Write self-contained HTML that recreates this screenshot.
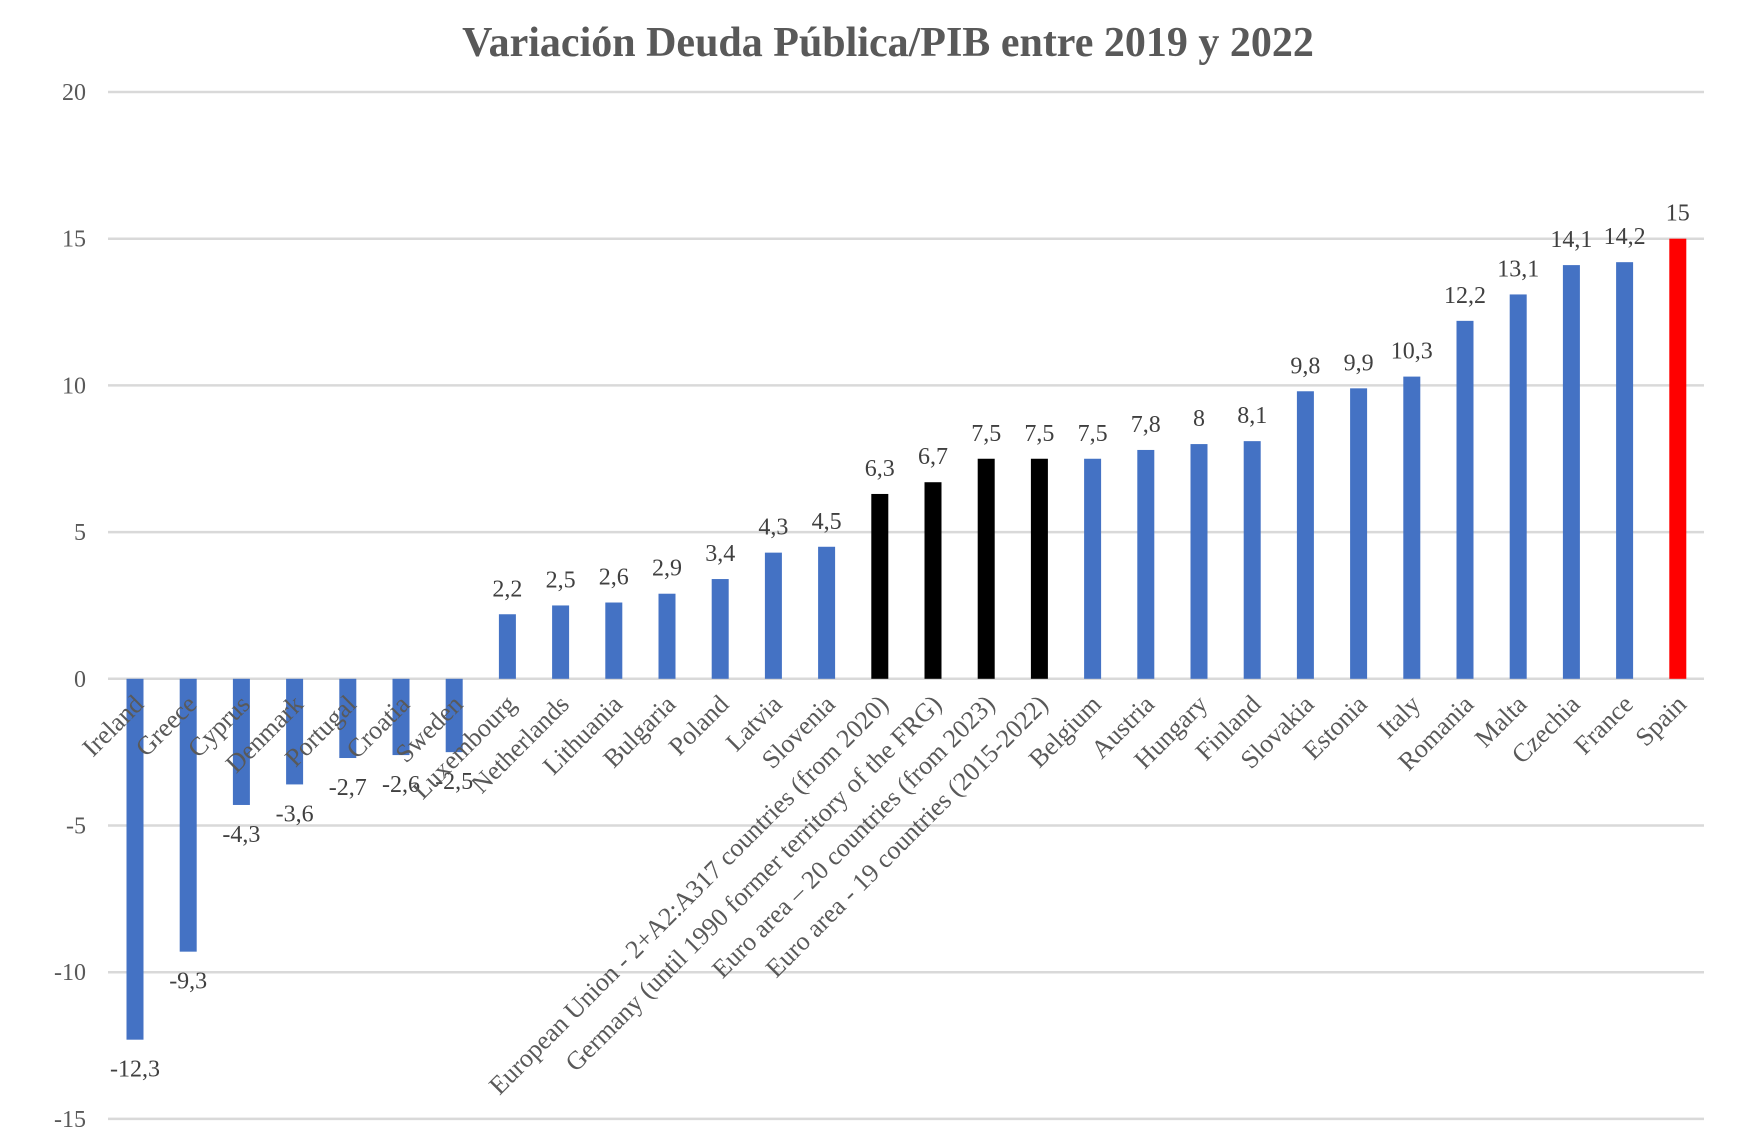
<!DOCTYPE html>
<html><head><meta charset="utf-8">
<style>
html,body{margin:0;padding:0;background:#fff;}
svg{display:block;font-family:"Liberation Serif",serif;}
</style></head>
<body>
<svg id="chart" width="1738" height="1148" viewBox="0 0 1738 1148" xmlns="http://www.w3.org/2000/svg">
<text x="888" y="56" text-anchor="middle" font-size="42" font-weight="bold" fill="#595959">Variación  Deuda Pública/PIB entre 2019 y 2022</text>
<g id="grid"></g><g id="bars"></g><g id="vals"></g><g id="cats"></g>
</svg>
<script>
const categories=["Ireland","Greece","Cyprus","Denmark","Portugal","Croatia","Sweden","Luxembourg","Netherlands","Lithuania","Bulgaria","Poland","Latvia","Slovenia","European Union - 2+A2:A317 countries (from 2020)","Germany (until 1990 former territory of the FRG)","Euro area – 20 countries (from 2023)","Euro area - 19 countries  (2015-2022)","Belgium","Austria","Hungary","Finland","Slovakia","Estonia","Italy","Romania","Malta","Czechia","France","Spain"];
const values=[-12.3,-9.3,-4.3,-3.6,-2.7,-2.6,-2.5,2.2,2.5,2.6,2.9,3.4,4.3,4.5,6.3,6.7,7.5,7.5,7.5,7.8,8,8.1,9.8,9.9,10.3,12.2,13.1,14.1,14.2,15];
const valueLabels=["-12,3","-9,3","-4,3","-3,6","-2,7","-2,6","-2,5","2,2","2,5","2,6","2,9","3,4","4,3","4,5","6,3","6,7","7,5","7,5","7,5","7,8","8","8,1","9,8","9,9","10,3","12,2","13,1","14,1","14,2","15"];
const barGroups=["c","c","c","c","c","c","c","c","c","c","c","c","c","c","agg","agg","agg","agg","c","c","c","c","c","c","c","c","c","c","c","highlight"];
const yTicks=[20,15,10,5,0,-5,-10,-15];
const yTickLabels=["20","15","10","5","0","-5","-10","-15"];

const NS="http://www.w3.org/2000/svg";
const plotL=108,plotR=1704,x0=108.4,step=53.2,barW=17;
function y(v){return 92+(20-v)*29.34;}
function xc(i){return x0+step*(i+0.5);}
const colors={c:"#4472C4",agg:"#000000",highlight:"#FF0000"};
function mk(tag,attrs,parent){const e=document.createElementNS(NS,tag);for(const k in attrs)e.setAttribute(k,attrs[k]);parent.appendChild(e);return e;}
const grid=document.getElementById('grid'),bars=document.getElementById('bars'),vals=document.getElementById('vals'),cats=document.getElementById('cats');
yTicks.forEach((t,k)=>{
  const l=mk('line',{x1:plotL,x2:plotR,y1:y(t),y2:y(t),stroke:"#d9d9d9","stroke-width":2.5},grid);
  
  
  const tx=mk('text',{x:86,y:y(t)+8,"text-anchor":"end","font-size":24,fill:"#595959"},grid);
  tx.textContent=yTickLabels[k];
  
  
});
values.forEach((v,i)=>{
  const top=Math.min(y(v),y(0)),h=Math.abs(y(v)-y(0));
  const r=mk('rect',{x:xc(i)-barW/2,y:top,width:barW,height:h,fill:colors[barGroups[i]]},bars);
  
  
  const ty=v>=0?y(v)-18:y(v)+37;
  const t=mk('text',{x:xc(i),y:ty,"text-anchor":"middle","font-size":24,fill:"#404040"},vals);
  t.textContent=valueLabels[i];
  
  
  const ax=xc(i)+10,ay=y(0)+27;
  const c=mk('text',{x:ax,y:ay,"text-anchor":"end","font-size":26,fill:"#595959",transform:`rotate(-45 ${ax} ${ay})`},cats);
  c.textContent=categories[i];
  
  
});
</script>
</body></html>
